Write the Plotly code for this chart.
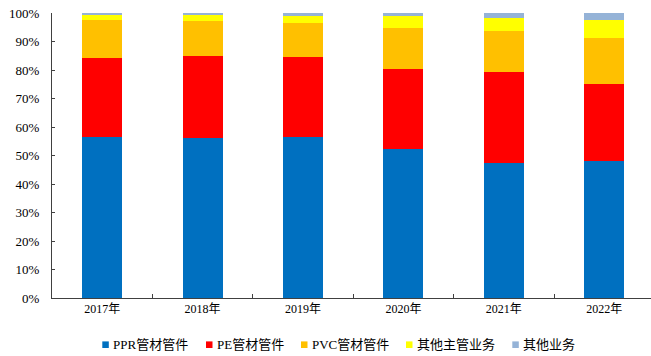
import plotly.graph_objects as go

# Revenue mix by business line (share of total, %)
years = ["2017年", "2018年", "2019年", "2020年", "2021年", "2022年"]
ppr = [56.6, 56.2, 56.6, 52.2, 47.2, 48.2]
pe = [27.7, 28.8, 27.9, 28.1, 32.1, 26.9]
pvc = [13.3, 12.3, 12.1, 14.5, 14.3, 16.1]
other_main = [1.7, 2.0, 2.5, 4.2, 4.5, 6.4]
other = [0.7, 0.7, 0.9, 1.0, 1.9, 2.4]

series_names = ["PPR管材管件", "PE管材管件", "PVC管材管件", "其他主管业务", "其他业务"]
series_values = [ppr, pe, pvc, other_main, other]
colors = ["#0070C0", "#FF0000", "#FFC000", "#FFFF00", "#95B3D7"]

W, H = 651, 356
ML, MR, MT, MB = 52, 0, 13, 58
PW, PH = W - ML - MR, H - MT - MB

FONT = "Liberation Serif, Times New Roman, Noto Sans CJK SC, serif"

fig = go.Figure()
for name, vals, col in zip(series_names, series_values, colors):
    fig.add_trace(go.Bar(
        x=years, y=vals, name=name, width=0.4,
        marker=dict(color=col, line=dict(width=0)),
        showlegend=False,
    ))


def px_x(x):
    return (x - ML) / PW


def px_y(y):
    return (H - MB - y) / PH


# Legend row below the axis: small square swatches followed by labels
legend_x = [102.3, 206, 301, 406, 512.3]
legend_y = 344.7
shapes = []
annotations = []
for lx, name, col in zip(legend_x, series_names, colors):
    shapes.append(dict(
        type="rect", xref="paper", yref="paper",
        x0=px_x(lx), x1=px_x(lx + 6.5),
        y0=px_y(legend_y + 3.3), y1=px_y(legend_y - 3.3),
        fillcolor=col, line=dict(width=0),
    ))
    annotations.append(dict(
        xref="paper", yref="paper", x=px_x(lx + 8.5), y=px_y(legend_y),
        xanchor="left", yanchor="middle", text=name, showarrow=False,
        font=dict(family=FONT, size=13, color="#000000"),
    ))

fig.update_layout(
    barmode="stack",
    width=W, height=H,
    margin=dict(l=ML, r=MR, t=MT, b=MB, pad=0),
    paper_bgcolor="white", plot_bgcolor="white",
    font=dict(family=FONT, size=12, color="#000000"),
    bargap=0.6,
    shapes=shapes,
    annotations=annotations,
    xaxis=dict(
        type="category",
        range=[-0.5, -0.5 + PW / 100.4],
        showline=True, linecolor="#404040", linewidth=1,
        ticks="inside", ticklen=4, tickcolor="#404040",
        tickson="boundaries",
        showgrid=False, zeroline=False,
        tickfont=dict(family=FONT, size=12),
    ),
    yaxis=dict(
        range=[0, 100], dtick=10, ticksuffix="%",
        showline=True, linecolor="#404040", linewidth=1,
        ticks="inside", ticklen=3, tickcolor="#404040",
        showgrid=False, zeroline=False,
        tickfont=dict(family=FONT, size=13),
        ticklabelstandoff=9,
    ),
)

fig.write_html("out.html")
